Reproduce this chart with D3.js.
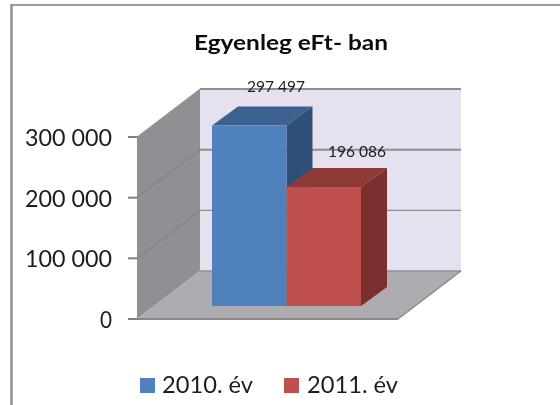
<!DOCTYPE html>
<html><head><meta charset="utf-8">
<script src="https://cdn.jsdelivr.net/npm/d3@7"></script>
<style>html,body{margin:0;background:#fff;overflow:hidden}svg{display:block;filter:blur(.45px)}text{font-family:Lato,"Open Sans",sans-serif}</style>
</head><body><div id="c"></div>
<script>
const title = "Egyenleg eFt- ban";
const categories = ["2010. év", "2011. év"];
const values = [297497, 196086];
const valueLabels = ["297 497", "196 086"];
const ticks = [0, 100000, 200000, 300000];
const tickLabels = ["0", "100 000", "200 000", "300 000"];
const frontColors = ["#4f81bd", "#c0504d"];
const topColors = ["#3c6190", "#8f3a38"];
const sideColors = ["#2f4f78", "#7c302e"];

const svg = d3.select("#c").append("svg").attr("width", 560).attr("height", 405);
const x0 = 137, floorY = 319, plotW = 261, depthX = 63, depthY = 48;
const y = d3.scaleLinear().domain([0, 300000]).range([floorY, 137]);
const cat = d3.scaleBand().domain(categories).range([212, 361]);
const pts = a => a.map(p => p.join(",")).join(" ");
const poly = (a, f) => svg.append("polygon").attr("points", pts(a)).attr("fill", f);
const line = (x1, y1, x2, y2, c, w) => svg.append("line").attr("x1", x1).attr("y1", y1).attr("x2", x2).attr("y2", y2).attr("stroke", c).attr("stroke-width", w);
const label = (s, x, yy, size, anchor, len, fill) => {
  const n = svg.append("text").attr("x", x).attr("y", yy).attr("text-anchor", anchor)
    .attr("font-size", size).attr("fill", fill || "#1c1c1c").text(s);
  if (len) n.attr("textLength", len).attr("lengthAdjust", "spacingAndGlyphs");
  return n;
};

// frame
line(11.5, 5, 560, 5, "#9a9a9a", 2);
line(11.5, 4, 11.5, 405, "#8f8f8f", 2.5);

// walls
const wallTop = y(300000);
poly([[x0 + depthX, wallTop - depthY], [x0 + plotW + depthX, wallTop - depthY], [x0 + plotW + depthX, floorY - depthY], [x0 + depthX, floorY - depthY]], "#e6e1ee");
poly([[x0, wallTop], [x0 + depthX, wallTop - depthY], [x0 + depthX, floorY - depthY], [x0, floorY]], "#918f94");
poly([[x0, floorY], [x0 + depthX, floorY - depthY], [x0 + plotW + depthX, floorY - depthY], [x0 + plotW, floorY]], "#aeabb1");

// gridlines and ticks
ticks.forEach((t, i) => {
  const w = t === 300000 || t === 200000 ? 2 : 1.2;
  if (t > 0) line(x0 + depthX, y(t) - depthY, x0 + plotW + depthX, y(t) - depthY, "#8f8f93", w);
  if (t > 0 && t < 300000) line(x0, y(t), x0 + depthX, y(t) - depthY, "#7f7d82", 1);
  line(128, y(t), x0, y(t), "#808080", 2);
  label(tickLabels[i], 112, y(t) + 9, 22.5, "end", t === 0 ? 12 : 87);
});
line(x0, floorY, x0 + plotW, floorY, "#8a888d", 2);
line(x0 + depthX, floorY - depthY, x0 + plotW + depthX, floorY - depthY, "#8f8f93", 1.5);
line(x0 + plotW, floorY, x0 + plotW + depthX, floorY - depthY, "#85838a", 1.2);
line(x0, wallTop, x0 + depthX, wallTop - depthY, "#9a989c", 1);

// bars
const barBase = 306, barDX = 26, barDY = 19, yh = d3.scaleLinear().domain([0, 300000]).range([0, 182]);
categories.forEach((c, i) => {
  const a = cat(c), b = a + cat.bandwidth(), t = barBase - yh(values[i]);
  poly([[a, t], [a + barDX, t - barDY], [b + barDX, t - barDY], [b, t]], topColors[i]);
  poly([[b, t], [b + barDX, t - barDY], [b + barDX, barBase - barDY], [b, barBase]], sideColors[i]);
  svg.append("rect").attr("x", a).attr("y", t).attr("width", b - a).attr("height", barBase - t).attr("fill", frontColors[i]);
});

// data labels
[[276, 92], [357, 157]].forEach((p, i) => label(valueLabels[i], p[0], p[1], 14.5, "middle", 58));

// title
label(title, 291, 50, 21.5, "middle", 194, "#0c0c0c").attr("font-weight", 700);

// legend
[[140, 162], [284, 307]].forEach((p, i) => {
  svg.append("rect").attr("x", p[0]).attr("y", 378).attr("width", 15).attr("height", 15).attr("fill", frontColors[i]);
  label(categories[i], p[1], 393, 22.5, "start", 91);
});
</script></body></html>
